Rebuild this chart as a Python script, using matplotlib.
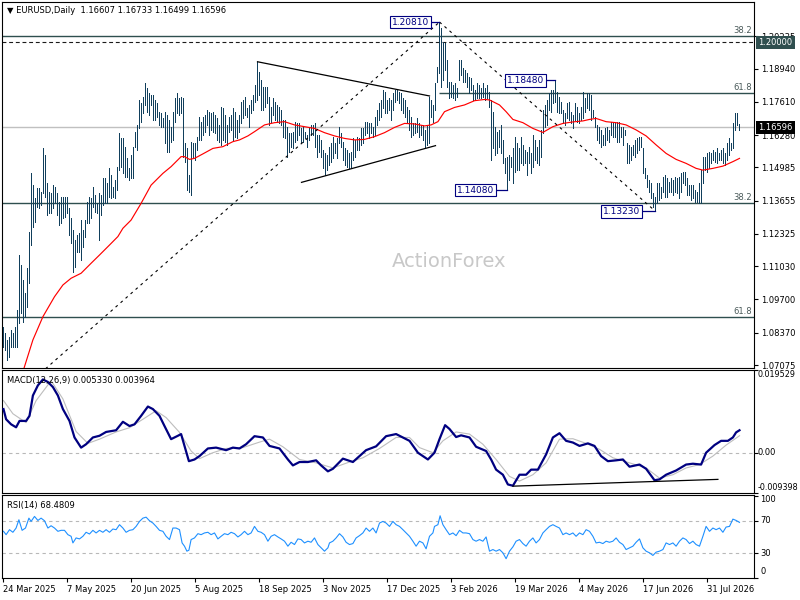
import matplotlib
matplotlib.use("Agg")
import matplotlib.pyplot as plt
import matplotlib.transforms as mtransforms
import pandas as pd

plt.rcParams['font.family'] = ['DejaVu Sans']

# ---------------- data ----------------
symbol = "EURUSD,Daily"
last_ohlc = ["1.16607", "1.16733", "1.16499", "1.16596"]
start_date = "2025-03-24"
market_holidays = ["2025-12-25", "2026-01-01"]

highs = [
    1.0861, 1.0834, 1.0808, 1.0821, 1.0848, 1.0834, 1.0861, 1.0928, 1.1148, 1.1108,
    1.1048, 1.0994, 1.1095, 1.1242, 1.1475, 1.1428, 1.1375, 1.1415, 1.1415, 1.1402,
    1.1575, 1.1549, 1.1435, 1.1402, 1.1395, 1.1428, 1.1422, 1.1395, 1.1362, 1.1382,
    1.1382, 1.1382, 1.1382, 1.1335, 1.1295, 1.1248, 1.1208, 1.1228, 1.1235, 1.1288,
    1.1248, 1.1288, 1.1362, 1.1382, 1.1375, 1.1422, 1.1388, 1.1355, 1.1395, 1.1388,
    1.1455, 1.1455, 1.1435, 1.1495, 1.1468, 1.1422, 1.1448, 1.1502, 1.1635, 1.1615,
    1.1615, 1.1582, 1.1535, 1.1495, 1.1549, 1.1582, 1.1642, 1.1669, 1.1769, 1.1755,
    1.1782, 1.1836, 1.1816, 1.1796, 1.1789, 1.1789, 1.1769, 1.1755, 1.1722, 1.1715,
    1.1695, 1.1722, 1.1709, 1.1689, 1.1662, 1.1722, 1.1775, 1.1796, 1.1775, 1.1782,
    1.1775, 1.1595, 1.1575, 1.1468, 1.1602, 1.1595, 1.1595, 1.1622, 1.1702, 1.1682,
    1.1702, 1.1709, 1.1729, 1.1722, 1.1715, 1.1722, 1.1709, 1.1695, 1.1669, 1.1742,
    1.1735, 1.1709, 1.1669, 1.1702, 1.1709, 1.1735, 1.1722, 1.1689, 1.1709, 1.1762,
    1.1769, 1.1782, 1.1735, 1.1749,
    1.1769, 1.1789, 1.1829, 1.1922, 1.1882, 1.1849, 1.1822, 1.1822, 1.1822, 1.1782,
    1.1742, 1.1775, 1.1762, 1.1749, 1.1742, 1.1729, 1.1689, 1.1689, 1.1662, 1.1635,
    1.1635, 1.1642, 1.1682, 1.1675, 1.1675, 1.1655, 1.1662, 1.1642, 1.1629, 1.1655,
    1.1669, 1.1669, 1.1675, 1.1629, 1.1629, 1.1609, 1.1569, 1.1555, 1.1549, 1.1582,
    1.1595, 1.1622, 1.1595, 1.1615, 1.1662, 1.1635, 1.1602, 1.1575, 1.1569, 1.1555,
    1.1562, 1.1615, 1.1609, 1.1622, 1.1615, 1.1655, 1.1655, 1.1682, 1.1682, 1.1675,
    1.1675, 1.1662, 1.1702, 1.1729, 1.1755, 1.1769, 1.1809, 1.1802, 1.1769, 1.1775,
    1.1769, 1.1795, 1.1809, 1.1809, 1.1802, 1.1795, 1.1775, 1.1769, 1.1742, 1.1729,
    1.1702, 1.1675, 1.1675, 1.1695, 1.1675, 1.1669, 1.1669, 1.1649, 1.1669, 1.1782,
    1.1769, 1.1749, 1.1836, 1.1902, 1.2081, 1.2056, 1.2002, 1.1996, 1.1929, 1.1842,
    1.1842, 1.1829, 1.1836, 1.1816, 1.1929, 1.1929, 1.1896, 1.1889, 1.1876, 1.1862,
    1.1856, 1.1829, 1.1809, 1.1836, 1.1829, 1.1816, 1.1836, 1.1816, 1.1829, 1.1802,
    1.1769, 1.1722,
    1.1662, 1.1642, 1.1649, 1.1669, 1.1609, 1.1535, 1.1542, 1.1549, 1.1542, 1.1575,
    1.1622, 1.1595, 1.1575, 1.1622, 1.1589, 1.1569, 1.1562, 1.1582, 1.1555, 1.1629,
    1.1609, 1.1582, 1.1609, 1.1649, 1.1729, 1.1749, 1.1769, 1.1796, 1.1809, 1.1809,
    1.1848, 1.1802, 1.1782, 1.1762, 1.1729, 1.1715, 1.1755, 1.1762, 1.1722, 1.1709,
    1.1755, 1.1742, 1.1715, 1.1742, 1.1802, 1.1775, 1.1796, 1.1796, 1.1789, 1.1729,
    1.1702, 1.1669, 1.1662, 1.1649, 1.1629, 1.1655, 1.1662, 1.1649, 1.1682, 1.1675,
    1.1682, 1.1682, 1.1682, 1.1662, 1.1662, 1.1649, 1.1595, 1.1589, 1.1582, 1.1589,
    1.1609, 1.1615, 1.1622, 1.1622, 1.1575, 1.1495, 1.1468, 1.1448, 1.1435, 1.1395,
    1.1382, 1.1435, 1.1435, 1.1422, 1.1462, 1.1468, 1.1455, 1.1442, 1.1455, 1.1448,
    1.1462, 1.1455, 1.1462, 1.1475, 1.1482, 1.1482, 1.1455, 1.1428, 1.1428, 1.1428,
    1.1408, 1.1402, 1.1435, 1.1488, 1.1542, 1.1542, 1.1555, 1.1562, 1.1555, 1.1569,
    1.1562, 1.1575, 1.1555, 1.1569, 1.1575, 1.1555, 1.1595, 1.1615, 1.1595, 1.1675,
    1.1715, 1.1715, 1.16733,
]
lows = [
    1.0781, 1.0768, 1.0728, 1.0741, 1.0781, 1.0781, 1.0781, 1.0781, 1.0874, 1.0914,
    1.0881, 1.0901, 1.0941, 1.1035, 1.1188, 1.1262, 1.1282, 1.1342, 1.1335, 1.1348,
    1.1395, 1.1382, 1.1308, 1.1315, 1.1315, 1.1335, 1.1355, 1.1308, 1.1268, 1.1275,
    1.1295, 1.1302, 1.1315, 1.1228, 1.1195, 1.1081, 1.1101, 1.1161, 1.1161, 1.1128,
    1.1181, 1.1221, 1.1275, 1.1275, 1.1295, 1.1342, 1.1322, 1.1315, 1.1208, 1.1308,
    1.1348, 1.1355, 1.1355, 1.1382, 1.1375, 1.1382, 1.1375, 1.1408, 1.1488, 1.1502,
    1.1475, 1.1462, 1.1462, 1.1448, 1.1455, 1.1455, 1.1582, 1.1569, 1.1655, 1.1682,
    1.1715, 1.1749, 1.1722, 1.1709, 1.1749, 1.1689, 1.1689, 1.1702, 1.1669, 1.1662,
    1.1662, 1.1595, 1.1562, 1.1562, 1.1602, 1.1609, 1.1682, 1.1715, 1.1709, 1.1715,
    1.1542, 1.1522, 1.1408, 1.1402, 1.1388, 1.1542, 1.1529, 1.1569, 1.1609, 1.1609,
    1.1629, 1.1642, 1.1669, 1.1629, 1.1649, 1.1642, 1.1635, 1.1609, 1.1602, 1.1589,
    1.1609, 1.1602, 1.1589, 1.1642, 1.1649, 1.1609, 1.1622, 1.1615, 1.1642, 1.1675,
    1.1695, 1.1709, 1.1702, 1.1662,
    1.1715, 1.1729, 1.1762, 1.1769, 1.1789, 1.1729, 1.1729, 1.1742, 1.1755, 1.1669,
    1.1682, 1.1709, 1.1689, 1.1682, 1.1675, 1.1669, 1.1622, 1.1615, 1.1542, 1.1562,
    1.1582, 1.1575, 1.1602, 1.1609, 1.1629, 1.1602, 1.1602, 1.1615, 1.1582, 1.1609,
    1.1629, 1.1629, 1.1582, 1.1542, 1.1562, 1.1542, 1.1495, 1.1468, 1.1488, 1.1508,
    1.1522, 1.1535, 1.1555, 1.1535, 1.1595, 1.1582, 1.1528, 1.1508, 1.1502, 1.1495,
    1.1502, 1.1528, 1.1542, 1.1569, 1.1569, 1.1589, 1.1595, 1.1629, 1.1635, 1.1615,
    1.1635, 1.1622, 1.1629, 1.1669, 1.1689, 1.1702, 1.1735, 1.1715, 1.1715, 1.1729,
    1.1689, 1.1729, 1.1762, 1.1769, 1.1755, 1.1729, 1.1715, 1.1702, 1.1675, 1.1649,
    1.1622, 1.1629, 1.1635, 1.1642, 1.1622, 1.1629, 1.1609, 1.1582, 1.1589, 1.1595,
    1.1702, 1.1682, 1.1729, 1.1842, 1.1876, 1.1822, 1.1849, 1.1889, 1.1822, 1.1775,
    1.1782, 1.1775, 1.1769, 1.1782, 1.1849, 1.1869, 1.1842, 1.1842, 1.1822, 1.1795,
    1.1809, 1.1769, 1.1769, 1.1775, 1.1775, 1.1775, 1.1782, 1.1769, 1.1775, 1.1742,
    1.1528, 1.1575,
    1.1549, 1.1555, 1.1582, 1.1555, 1.1515, 1.1475, 1.1408, 1.1448, 1.1502, 1.1435,
    1.1482, 1.1488, 1.1488, 1.1515, 1.1508, 1.1515, 1.1468, 1.1515, 1.1475, 1.1502,
    1.1529, 1.1515, 1.1508, 1.1542, 1.1635, 1.1662, 1.1669, 1.1729, 1.1722, 1.1755,
    1.1762, 1.1722, 1.1715, 1.1715, 1.1675, 1.1669, 1.1695, 1.1689, 1.1675, 1.1655,
    1.1689, 1.1682, 1.1675, 1.1689, 1.1695, 1.1722, 1.1735, 1.1729, 1.1689, 1.1702,
    1.1662, 1.1609, 1.1595, 1.1582, 1.1589, 1.1589, 1.1609, 1.1602, 1.1629, 1.1622,
    1.1622, 1.1602, 1.1602, 1.1622, 1.1589, 1.1629, 1.1515, 1.1515, 1.1529, 1.1549,
    1.1542, 1.1555, 1.1569, 1.1582, 1.1475, 1.1455, 1.1422, 1.1402, 1.1375, 1.1342,
    1.1323, 1.1355, 1.1368, 1.1375, 1.1402, 1.1382, 1.1382, 1.1402, 1.1402, 1.1388,
    1.1402, 1.1395, 1.1375, 1.1402, 1.1435, 1.1428, 1.1388, 1.1388, 1.1368, 1.1375,
    1.1362, 1.1362, 1.1355, 1.1355, 1.1435, 1.1488, 1.1482, 1.1495, 1.1515, 1.1529,
    1.1522, 1.1515, 1.1529, 1.1529, 1.1515, 1.1508, 1.1529, 1.1549, 1.1569, 1.1575,
    1.1649, 1.1669, 1.16499,
]

ma_bars = [8, 10.5, 14.7, 19.7, 25.5, 29.7, 33.8, 38.8, 43.8, 48, 53, 57.2, 59.7, 63.8, 68.8,
           73.8, 79.7, 83.8, 88.8, 90.5, 93, 95.5, 99.7, 104.7, 109.7, 114.7, 118, 122.2,
           125.5, 130.5, 135.5, 140.5, 145.5, 150.5, 155.5, 160.5, 165.5, 170.5, 175.5,
           180.5, 185.5, 190.5, 195.5, 200.5, 205.5, 210.5, 213.8, 217.2, 220.5, 225.5,
           230.5, 235.5, 240.5, 243, 248, 251.3, 254.7, 259.7, 264.7, 269.7, 274.7, 279.7,
           284.7, 289.7, 293, 296.3, 301.3, 306.3, 311.3, 316.3, 321.3, 326.3, 331.3,
           336.3, 341.3, 346.3, 349.7, 354.7, 359.7, 364.7, 368]
ma_values = [1.0638, 1.0701, 1.0808, 1.0901, 1.0981, 1.1028, 1.1055, 1.1075, 1.1115, 1.1148,
             1.1188, 1.1222, 1.1255, 1.1288, 1.1355, 1.1428, 1.1475, 1.1502, 1.1542, 1.1542,
             1.1531, 1.1535, 1.1553, 1.1575, 1.1582, 1.1602, 1.1609, 1.1625,
             1.1642, 1.1669, 1.1678, 1.1682, 1.1669, 1.1662, 1.1655, 1.1638, 1.1625, 1.1615,
             1.1609, 1.1611, 1.1622, 1.1638, 1.1659, 1.1675, 1.1673, 1.1665, 1.1669, 1.1682,
             1.1722, 1.1739, 1.1749, 1.1766, 1.1771, 1.1769, 1.1749, 1.1722, 1.1691, 1.1678,
             1.1655, 1.1639, 1.1662, 1.1675, 1.1681, 1.1685, 1.1691, 1.1695, 1.1682, 1.1678,
             1.1669, 1.1649, 1.1625, 1.1589, 1.1555, 1.1531, 1.1515, 1.1495, 1.1488, 1.1495,
             1.1504, 1.1522, 1.1535]

macd_bars = [0, 1.3, 3.8, 6.3, 8, 11.3, 13, 14.7, 17.2, 19.7, 22.2, 24.7, 27.2, 29.7, 33,
             35.5, 38.8, 41.3, 44.7, 48, 51.3, 56.3, 59.7, 63, 65.5, 68.8, 72.2, 74.7, 78,
             80.5, 83.8, 87.2, 88.8, 90.5, 92.7, 95.5, 98, 102.2, 106.3, 111.3, 114.7, 118,
             121.3, 125.5, 129.7, 133, 138, 142.2, 144.7, 148, 152.2, 156.3, 158.8, 162.2,
             164.7, 169.7, 174.7, 181.3, 186.3, 191.3, 196.3,
             203, 207.2, 212.2, 215.5, 218, 220.8, 223, 226.3, 228.8, 233, 236.3, 241.3,
             243.8, 246.3, 249.7, 252.2, 254.7, 258, 261.3, 263.8, 267.2, 271.3, 274.7, 278,
             281.3, 284.7, 288, 292.2, 295.5, 298.8, 302.2, 306.3, 309.7, 313, 318, 321.3,
             325.5, 328, 331.3, 336.3, 341.3, 344.7, 348.8, 351.3, 355.5, 358.8, 362.2,
             364.7, 366.3, 368]
macd_values = [0.0103, 0.0079, 0.0067, 0.0060, 0.0075, 0.0075, 0.0087, 0.0135, 0.0159, 0.0173,
               0.0167, 0.0155, 0.0135, 0.0103, 0.0075, 0.0036, 0.0012, 0.0020, 0.0036, 0.0040,
               0.0049, 0.0053, 0.0073, 0.0063, 0.0067, 0.0087, 0.0109, 0.0103, 0.0087, 0.0063,
               0.0032, 0.0040, 0.0044, 0.0016, -0.0020, -0.0016, -0.0008, 0.0010, 0.0012, 0.0006,
               0.0012, 0.0010, 0.0020, 0.0039, 0.0036, 0.0016, 0.0010, -0.0016, -0.0030, -0.0022,
               -0.0022, -0.0018, -0.0030, -0.0044, -0.0038, -0.0014, -0.0022, 0.0006, 0.0015,
               0.0039, 0.0044,
               0.0028, 0.0000, -0.0016, 0.0000, 0.0032, 0.0065, 0.0056, 0.0037, 0.0041, 0.0036,
               0.0014, 0.0004, -0.0016, -0.0040, -0.0052, -0.0075, -0.0078, -0.0052, -0.0052,
               -0.0040, -0.0040, -0.0004, 0.0036, 0.0046, 0.0028, 0.0024, 0.0016, 0.0022, 0.0016,
               -0.0008, -0.0020, -0.0018, -0.0016, -0.0033, -0.0028, -0.0038, -0.0065, -0.0063,
               -0.0052, -0.0042, -0.0028, -0.0026, -0.0028, 0.0000, 0.0018, 0.0028, 0.0028,
               0.0036, 0.0048, 0.0053]

signal_bars = [0, 4.7, 11.3, 16.3, 23.8, 29.7, 36.3, 42.2, 48, 56.3, 63, 69.7, 76.3, 81.3, 88,
               93.8, 98, 104.7, 111.3, 119.7, 128, 133, 139.7, 148, 156.3, 164.7, 173, 179.7,
               188, 196.3, 203, 208, 214.7, 219.7, 226.3, 233, 239.7, 246.3, 253, 258, 264.7,
               271.3, 278, 284.7, 291.3, 298, 304.7, 313, 321.3, 328, 334.7, 341.3, 348, 354.7,
               361.3, 368]
signal_values = [0.0123, 0.0092, 0.0071, 0.0123, 0.0170, 0.0127, 0.0050, 0.0022, 0.0032, 0.0049,
                 0.0059, 0.0079, 0.0099, 0.0083, 0.0048, 0.0004, -0.0014, 0.0000, 0.0010, 0.0012,
                 0.0025, 0.0032, 0.0014, -0.0016, -0.0024, -0.0036, -0.0022, -0.0012, 0.0010,
                 0.0036, 0.0036, 0.0012, 0.0000, 0.0028, 0.0049, 0.0044, 0.0020, -0.0016, -0.0056,
                 -0.0067, -0.0052, -0.0024, 0.0032, 0.0033, 0.0022, 0.0008, -0.0012, -0.0024,
                 -0.0036, -0.0060, -0.0052, -0.0036, -0.0028, -0.0008, 0.0018, 0.0040]
macd_readout = ["0.005330", "0.003964"]

rsi_bars = [0, 1.3, 3, 4.7, 6.3, 7.7, 9.3, 11, 12.7, 13.8,
            15.5, 17.2, 18.8, 20.5, 22.2, 23.8, 25.5, 27.2, 28.8, 30.5,
            32.2, 33.8, 34.7, 36.3, 38, 39.7, 41.3, 43, 44.7, 46.3,
            48, 49.7, 51.3, 53, 54.7, 56.3, 58, 59.7, 61.3, 63,
            64.7, 66.3, 68, 69.7, 71.3, 73, 74.7, 76.3, 78, 79.7,
            81.3, 83, 84.7, 86.3, 88, 89.3, 90.5, 91.7, 92.7, 93.8,
            95.5, 97.2, 98.8, 100.5, 102.2, 103.8, 105.5, 107.2, 108.8, 110.5,
            112.2, 113.8, 115.5, 117.2, 118.8, 120.5, 122.2, 123.8, 125.5, 127.2,
            128.8, 130.5, 132.2, 133.8, 135.5, 137.2, 138.8, 140.5, 142.2, 143.8,
            145.5, 147.2, 148.8, 150.5, 152.2, 153.8, 155.5, 157.2, 158.8, 160.5,
            162.2, 163, 164.7, 166.3, 168, 169.7, 171.3, 173, 174.7, 176.3,
            178, 179.7, 181.3, 183, 184.7, 186.3, 188, 189.7, 191.3, 193,
            194.7, 196.3,
            198, 199.7, 201.3, 203, 204.7, 206.3, 208, 209.7, 211.3, 213,
            214.7, 215.5, 217.2, 218.3, 219.7, 221.3, 223, 224.7, 226.3, 228,
            229.7, 231.3, 233, 234.7, 236.3, 238, 239.7, 241.3, 243, 244.7,
            246.3, 248, 249.7, 251.3, 253, 254.7, 256.3, 258, 259.7, 261.3,
            263, 264.7, 266.3, 268, 269.7, 271.3, 273, 274.7, 276.3, 278,
            279.7, 281.3, 283, 284.7, 286.3, 288, 289.7, 291.3, 293, 294.7,
            296.3, 298, 299.7, 301.3, 303, 304.7, 306.3, 308, 309.7, 311.3,
            313, 314.7, 316.3, 318, 319.7, 321.3, 323, 324.7, 326.3, 328,
            329.7, 331.3, 333, 334.7, 336.3, 338, 339.7, 341.3, 343, 344.7,
            346.3, 348, 349.7, 351.3, 353, 354.7, 356.3, 358, 359.7, 361.3,
            363, 364.7, 366.3, 368]
rsi_values = [57.1, 53.0, 59.1, 55.9, 61.1, 71.2, 58.3, 61.1, 73.2, 69.2,
              75.3, 70.4, 73.2, 70.0, 61.1, 63.9, 61.1, 57.1, 58.3, 58.3,
              53.0, 51.0, 42.9, 49.0, 47.8, 51.0, 55.9, 53.8, 58.3, 55.1,
              58.3, 55.9, 59.1, 55.9, 59.9, 59.1, 65.2, 61.1, 55.9, 58.3,
              59.1, 63.1, 69.2, 73.2, 74.4, 70.0, 67.2, 63.1, 58.3, 57.1,
              51.0, 47.0, 61.1, 61.1, 59.1, 42.9, 38.9, 32.8, 34.0, 47.0,
              49.0, 54.2, 53.0, 55.1, 55.9, 53.0, 55.1, 47.8, 51.0, 54.2,
              53.0, 55.9, 54.2, 50.2, 53.0, 57.1, 53.0, 55.1, 63.1, 57.1,
              55.9, 53.0, 45.0, 51.0, 53.0, 50.2, 47.8, 45.0, 38.9, 43.7,
              40.9, 47.8, 47.0, 42.9, 45.0, 43.7, 49.0, 40.9, 36.9, 32.8,
              36.9, 42.9, 45.0, 49.0, 54.2, 50.2, 43.7, 40.9, 42.1, 49.0,
              51.8, 55.1, 61.1, 57.1, 61.1, 55.1, 67.2, 69.2, 67.2, 63.1,
              69.2, 65.2,
              63.1, 59.1, 55.1, 51.0, 45.0, 38.9, 45.0, 42.9, 35.7, 51.0,
              55.1, 63.1, 65.2, 76.1, 65.2, 59.1, 53.0, 55.1, 51.8, 58.3,
              55.1, 55.1, 54.2, 47.0, 45.0, 47.0, 45.0, 50.2, 32.8, 34.8,
              32.8, 34.8, 30.8, 23.6, 32.8, 38.1, 45.0, 47.0, 42.1, 38.9,
              45.0, 49.0, 42.9, 47.0, 55.1, 59.1, 63.1, 65.2, 63.1, 61.1,
              53.0, 55.1, 53.0, 55.1, 51.0, 55.1, 53.0, 59.1, 57.1, 51.0,
              42.9, 43.7, 42.1, 45.0, 43.7, 45.0, 49.0, 43.7, 40.9, 34.8,
              36.9, 38.9, 43.7, 47.8, 36.9, 32.8, 30.8, 27.6, 31.6, 32.8,
              34.8, 42.9, 40.9, 42.9, 38.9, 45.0, 49.0, 47.0, 42.1, 45.0,
              40.9, 38.9, 51.0, 63.1, 57.1, 61.1, 59.1, 61.1, 55.9, 62.3,
              63.1, 72.0, 70.4, 68.0]
rsi_readout = "68.4809"

price_ticks = [1.20235, 1.18940, 1.17610, 1.16280, 1.14985, 1.13655,
               1.12325, 1.11030, 1.09700, 1.08370, 1.07075]
fib_levels = [1.2025, 1.1796, 1.1355, 1.0901]
fib_names = ["38.2", "61.8", "38.2", "61.8"]
fib_start_bars = [-1, 218, -1, -1]
round_level = 1.20000
current_price = 1.16596

swing_values = [1.20810, 1.18480, 1.14080, 1.13230]
swing_bars = [218, 276, 252, 326]
swing_label_bars = [214, 271.5, 246.5, 319.5]

tri_upper_bars, tri_upper_vals = [127, 213], [1.1922, 1.1785]
tri_lower_bars, tri_lower_vals = [149, 216], [1.1439, 1.1586]
up_trend_bars, up_trend_vals = [16, 218], [1.0657, 1.2081]
down_trend_bars, down_trend_vals = [218, 326], [1.2081, 1.1323]
macd_div_bars, macd_div_vals = [254.7, 357.2], [-0.0079, -0.0063]

macd_top, macd_bottom = 0.019529, -0.009398
rsi_levels = [70, 30]

# ---------------- figure ----------------
W, H = 800, 600
fig = plt.figure(figsize=(8, 6), dpi=100)
fig.patch.set_facecolor('white')


def rect(x0, y0, x1, y1):
    return [x0 / W, 1 - y1 / H, (x1 - x0) / W, (y1 - y0) / H]


ax = fig.add_axes(rect(2, 2, 754, 368))
axm = fig.add_axes(rect(2, 370, 754, 492.5))
axr = fig.add_axes(rect(2, 495, 754, 578))

n = min(len(highs), len(lows))
xs = list(range(n))
XL = (-0.75, 375.25)

bar_color = '#113F5C'
slate = '#2F4F4F'
navy = '#000080'
fs = 6

for a in (ax, axm, axr):
    a.set_xlim(*XL)
    for s in a.spines.values():
        s.set_linewidth(0.8)
        s.set_color('black')
    a.tick_params(axis='x', which='both', bottom=False, labelbottom=False)
    a.yaxis.tick_right()
    a.tick_params(axis='y', which='both', left=False, labelleft=False,
                  right=True, length=3, width=0.8, pad=2, labelsize=fs, direction='out')

# ---- main price panel ----
ax.set_ylim(1.06955, 1.21613)
ax.axhline(current_price, color='#C0C0C0', lw=1.0, zorder=1)
btr = mtransforms.blended_transform_factory(ax.transAxes, ax.transData)
for lvl, name, sb in zip(fib_levels, fib_names, fib_start_bars):
    ax.plot([sb, XL[1]], [lvl, lvl], color=slate, lw=1.0, zorder=2, solid_capstyle='butt')
    ax.text(0.997, lvl + 0.0004, name, transform=btr,
            ha='right', va='bottom', fontsize=fs, color='#4A5A5A')
ax.axhline(round_level, color='#1a1a1a', lw=0.8, ls=(0, (3.5, 2.5)), zorder=2)

ax.vlines(xs, lows[:n], highs[:n], color=bar_color, lw=0.5, zorder=3, antialiased=False)
ax.plot(ma_bars, ma_values, color='#FF0000', lw=0.85, zorder=4)

ax.plot(tri_upper_bars, tri_upper_vals, color='black', lw=0.9, zorder=5)
ax.plot(tri_lower_bars, tri_lower_vals, color='black', lw=0.9, zorder=5)
ax.plot(up_trend_bars, up_trend_vals, color='black', lw=0.8, ls=(0, (2.5, 3.5)), zorder=5)
ax.plot(down_trend_bars, down_trend_vals, color='black', lw=0.8, ls=(0, (2.5, 3.5)), zorder=5)

for val, b, lb in zip(swing_values, swing_bars, swing_label_bars):
    ax.plot([lb, b], [val, val], color=navy, lw=0.9, zorder=6)
    ax.text(lb - 1.0, val, f"{val:.5f}", ha='right', va='center', fontsize=6.5, color=navy, zorder=7,
            bbox=dict(boxstyle='square,pad=0.2', fc='white', ec=navy, lw=0.8))

ax.set_yticks(price_ticks)
ax.set_yticklabels([f"{t:.5f}" for t in price_ticks])

ax.text(1.006, round_level, f"{round_level:.5f}", transform=btr, ha='left', va='center', fontsize=fs,
        color='white', clip_on=False, zorder=10,
        bbox=dict(boxstyle='square,pad=0.25', fc=slate, ec='none'))
ax.text(1.006, current_price, f"{current_price:.5f}", transform=btr, ha='left', va='center', fontsize=fs,
        color='white', clip_on=False, zorder=10,
        bbox=dict(boxstyle='square,pad=0.25', fc='black', ec='none'))

ax.text(0.594, 0.29, "ActionForex", transform=ax.transAxes, ha='center', va='center',
        fontsize=14, color='#C8C8C8', zorder=0)

fig.text(7 / W, 1 - 10.5 / H, "\u25BC " + symbol + "  " + " ".join(last_ohlc),
         ha='left', va='center', fontsize=fs, color='black')

# ---- MACD panel ----
axm.set_ylim(macd_bottom, macd_top)
axm.axhline(0, color='#B8B8B8', lw=0.8, ls=(0, (3, 3)), zorder=1)
axm.plot(signal_bars, signal_values, color='#BDBDBD', lw=0.8, zorder=2)
axm.plot(macd_bars, macd_values, color=navy, lw=1.6, zorder=3)
axm.plot(macd_div_bars, macd_div_vals, color='black', lw=0.9, zorder=4)
axm.set_yticks([macd_top, 0, macd_bottom])
axm.set_yticklabels([])
bm = mtransforms.blended_transform_factory(axm.transAxes, axm.transData)
mfs = 5.8
axm.text(1.0045, macd_top, f"{macd_top:.6f}", transform=bm, ha='left', va='top', fontsize=mfs,
         clip_on=False)
axm.text(1.0045, 0, "0.00", transform=bm, ha='left', va='center', fontsize=fs, clip_on=False)
axm.text(1.0045, macd_bottom, f"{macd_bottom:.6f}", transform=bm, ha='left', va='bottom', fontsize=mfs,
         clip_on=False)
axm.text(0.007, 0.955, "MACD(12,26,9) " + " ".join(macd_readout),
         transform=axm.transAxes, ha='left', va='top', fontsize=fs)

# ---- RSI panel ----
axr.set_ylim(0.9, 101.5)
for lv in rsi_levels:
    axr.axhline(lv, color='#B8B8B8', lw=0.8, ls=(0, (3, 3)), zorder=1)
axr.plot(rsi_bars, rsi_values, color='#1E90FF', lw=0.8, zorder=2)
axr.set_yticks([100, 70, 30, 0])
axr.set_yticklabels([])
br = mtransforms.blended_transform_factory(axr.transAxes, axr.transData)
axr.text(1.008, 101.0, "100", transform=br, ha='left', va='top', fontsize=fs, clip_on=False)
axr.text(1.008, 70, "70", transform=br, ha='left', va='center', fontsize=fs, clip_on=False)
axr.text(1.008, 30, "30", transform=br, ha='left', va='center', fontsize=fs, clip_on=False)
axr.text(1.008, 3.0, "0", transform=br, ha='left', va='bottom', fontsize=fs, clip_on=False)
axr.text(0.007, 0.93, "RSI(14) " + rsi_readout, transform=axr.transAxes, ha='left', va='top', fontsize=fs)

dates = pd.bdate_range(start_date, periods=n, freq='C', holidays=market_holidays)
tick_idx = list(range(0, n, 32))
axr.set_xticks([i - 0.4 for i in tick_idx])
axr.set_xticklabels([f"{dates[i].day} {dates[i].strftime('%b %Y')}" for i in tick_idx],
                    ha='left', fontsize=fs)
axr.tick_params(axis='x', which='both', bottom=True, labelbottom=True, length=3, width=0.8,
                pad=2, direction='out')

fig.savefig("out.png", dpi=100, facecolor='white')
